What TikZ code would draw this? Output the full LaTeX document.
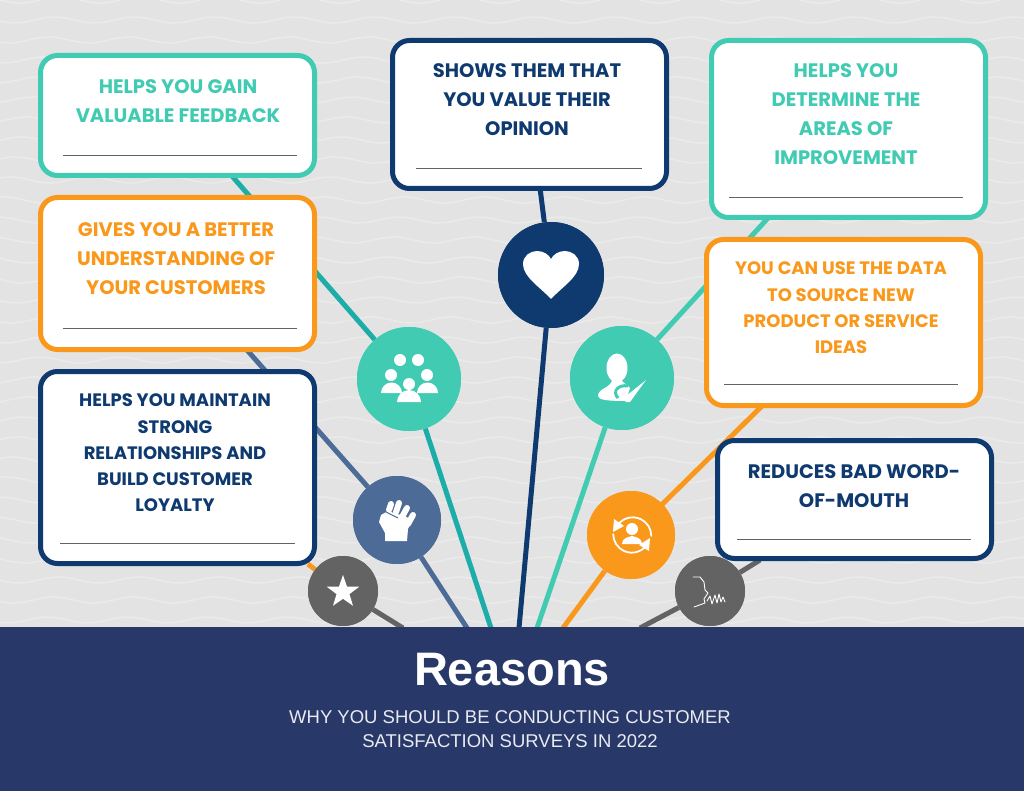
\documentclass[tikz,border=0pt]{standalone}
\usepackage{fontspec}
\usetikzlibrary{shapes.geometric}
\setmainfont{Liberation Sans}
\newfontfamily\boxfont{Poppins}[BoldFont={Poppins Bold}]
\definecolor{bgc}{HTML}{E3E3E3}
\definecolor{wavec}{HTML}{EAEAEA}
\definecolor{mint}{HTML}{40CBB2}
\definecolor{teal2}{HTML}{1CADA8}
\definecolor{orng}{HTML}{F9981A}
\definecolor{navy}{HTML}{0E3A70}
\definecolor{slate}{HTML}{4D6B97}
\definecolor{grayc}{HTML}{636363}
\definecolor{foot}{HTML}{283869}
\tikzset{
  x=1pt,y=-1pt,
  cardbox/.style={draw=#1,fill=white,line width=5pt,rounded corners=17pt,inner sep=0pt},
  cardtext/.style={text=#1,align=center,inner sep=0pt,font=\boxfont\bfseries\fontsize{19.5}{29}\selectfont},
  rulebar/.style={draw=grayc,line width=0.7pt},
  wire/.style={draw=#1,line width=5pt},
  disc/.style={circle,fill=#1,inner sep=0pt},
  glyph/.style={fill=white,draw=none},
  glyphline/.style={draw=white,line cap=round,line join=round},
}
\newcommand{\card}[6]{% name, x1, y1, x2, y2, colour
  \node[cardbox=#6,minimum width=#4pt-#2pt-5pt,minimum height=#5pt-#3pt-5pt] (#1) at ({(#2+#4)/2},{(#3+#5)/2}) {};}
\begin{document}
\begin{tikzpicture}
\useasboundingbox (0,0) rectangle (1024,791);
\fill[bgc] (0,0) rectangle (1024,791);
\foreach \r in {-1,...,32}{
  \draw[wavec,line width=1.6pt] plot[domain=0:1024,samples=90,smooth] (\x,{\r*20+3*sin(\x*4.5+\r*25)});
}
% coordinates on the footer edge
\coordinate (f1) at (403,628);
\coordinate (f2) at (467,628);
\coordinate (f3) at (491,628);
\coordinate (f4) at (519,628);
\coordinate (f5) at (537,628);
\coordinate (f6) at (563,628);
\coordinate (f7) at (640,628);
% discs
\node[disc=mint,minimum size=104pt] (cgroup) at (409,379) {};
\node[disc=slate,minimum size=88pt] (cfist) at (397,520) {};
\node[disc=grayc,minimum size=70pt] (cstar) at (343,591) {};
\node[disc=navy,minimum size=106pt] (cheart) at (551,275) {};
\node[disc=mint,minimum size=104pt] (cuser) at (622,378) {};
\node[disc=orng,minimum size=88pt] (cswap) at (631,535) {};
\node[disc=grayc,minimum size=70pt] (cvoice) at (710,591) {};
% cards' anchors for wires
\coordinate (a1) at (232,176);
\coordinate (a2) at (247,350);
\coordinate (a3) at (308,564);
\coordinate (a4) at (540,188);
\coordinate (a5) at (768,218);
\coordinate (a6) at (762,406);
\coordinate (a7) at (760,560);
% wires
\begin{scope}[on background layer/.style={}]
\draw[wire=teal2] (f3) -- (cgroup);
\draw[wire=teal2] (cgroup) -- (a1);
\draw[wire=slate] (f2) -- (cfist);
\draw[wire=slate] (cfist) -- (a2);
\draw[wire=grayc] (f1) -- (cstar);
\draw[wire=orng] (cstar) -- (a3);
\draw[wire=navy] (f4) -- (cheart);
\draw[wire=navy] (cheart) -- (a4);
\draw[wire=mint] (f5) -- (cuser);
\draw[wire=mint] (cuser) -- (a5);
\draw[wire=orng] (f6) -- (cswap);
\draw[wire=orng] (cswap) -- (a6);
\draw[wire=grayc] (f7) -- (cvoice);
\draw[wire=grayc] (cvoice) -- (a7);
\end{scope}
% redraw discs over wires
\node[disc=mint,minimum size=104pt] at (cgroup) {};
\node[disc=slate,minimum size=88pt] at (cfist) {};
\node[disc=grayc,minimum size=70pt] at (cstar) {};
\node[disc=navy,minimum size=106pt] at (cheart) {};
\node[disc=mint,minimum size=104pt] at (cuser) {};
\node[disc=orng,minimum size=88pt] at (cswap) {};
\node[disc=grayc,minimum size=70pt] at (cvoice) {};
% cards
\card{b1}{38}{53}{317}{178}{mint}
\card{b2}{38}{195}{317}{352}{orng}
\card{b3}{38}{369}{317}{566}{navy}
\card{b4}{390}{38}{669}{191}{navy}
\card{b5}{709}{38}{988}{220}{mint}
\card{b6}{704}{237}{983}{408}{orng}
\card{b7}{715}{438}{994}{561}{navy}
\node[cardtext=mint] (t1) at (178,101) {HELPS YOU GAIN\\VALUABLE FEEDBACK};
\node[cardtext=orng] (t2) at (176,259) {GIVES YOU A BETTER\\UNDERSTANDING OF\\YOUR CUSTOMERS};
\node[cardtext=navy,font=\boxfont\bfseries\fontsize{18}{26.3}\selectfont] (t3) at (175,453) {HELPS YOU MAINTAIN\\STRONG\\RELATIONSHIPS AND\\BUILD CUSTOMER\\LOYALTY};
\node[cardtext=navy] (t4) at (527,100) {SHOWS THEM THAT\\YOU VALUE THEIR\\OPINION};
\node[cardtext=mint] (t5) at (846,114) {HELPS YOU\\DETERMINE THE\\AREAS OF\\IMPROVEMENT};
\node[cardtext=orng,font=\boxfont\bfseries\fontsize{18}{26.3}\selectfont] (t6) at (841,308) {YOU CAN USE THE DATA\\TO SOURCE NEW\\PRODUCT OR SERVICE\\IDEAS};
\node[cardtext=navy] (t7) at (854,486) {REDUCES BAD WORD-\\OF-MOUTH};
\draw[rulebar] (63,155) -- (297,155);
\draw[rulebar] (63,328) -- (297,328);
\draw[rulebar] (60,543) -- (295,543);
\draw[rulebar] (416,168) -- (642,168);
\draw[rulebar] (729,197) -- (963,197);
\draw[rulebar] (724,384) -- (958,384);
\draw[rulebar] (737,539) -- (971,539);
% footer
\fill[foot] (0,627) rectangle (1024,791);
\node[text=white,inner sep=0pt,font=\bfseries\fontsize{47}{50}\selectfont] (title) at (512,670) {Reasons};
\node[text=white!90!foot,align=center,inner sep=0pt,font=\fontsize{18.5}{24}\selectfont] (sub) at (510,729) {WHY YOU SHOULD BE CONDUCTING CUSTOMER\\SATISFACTION SURVEYS IN 2022};
% heart
\fill[glyph] (551,299) .. controls (540,287) and (523,277) .. (523,264) .. controls (523,256) and (530,251) .. (537,251) .. controls (544,251) and (549,255) .. (551,259) .. controls (553,255) and (558,251) .. (565,251) .. controls (572,251) and (579,256) .. (579,264) .. controls (579,277) and (562,287) .. (551,299) -- cycle;
% group
\foreach \p/\q in {400/360,418/360,391/375,427/375,409/384}{\fill[glyph] (\p,\q) circle[radius=6];}
\fill[glyph] (381,393) arc[start angle=180,end angle=360,radius=10.5] -- cycle;
\fill[glyph] (417,393) arc[start angle=180,end angle=360,radius=10.5] -- cycle;
\fill[glyph] (397,402) arc[start angle=180,end angle=360,radius=12] -- cycle;
% fist
\fill[glyph] (379,522) -- (381,515) -- (388,511) -- (407,517) -- (411,522) -- (408,529) -- (407,541) -- (385,541) -- (385,533) -- cycle;
\foreach \p/\q/\u/\v in {391/504/389/510,399/503/396/512,407/508/402/517,413/515/408/524}{
  \draw[glyphline,line width=6pt] (\p,\q) -- (\u,\v);}
\draw[draw=slate,line width=1pt] (386,512) -- (398,518);
% star
\node[star,star points=5,star point ratio=2.5,fill=white,inner sep=0pt,minimum size=34pt] (istar) at (343,592) {};
% user with check
\fill[glyph] (617,368) ellipse[x radius=10.5,y radius=14.5];
\fill[glyph] (612,380) .. controls (611,388) and (598,388) .. (598,396) .. controls (598,400) and (608,401) .. (626,401) -- (630,388) -- (622,381) -- cycle;
\draw[draw=mint,line width=3pt] (628,386) .. controls (618,384) and (612,392) .. (618,398);
\fill[glyph] (617,391) -- (620,389) -- (626,396) -- (646,380) -- (630,402) -- (626,402) -- cycle;
% swap
\draw[glyphline,line width=1.8pt] (616,528) arc[start angle=205,end angle=360,radius=18.5];
\draw[glyphline,line width=1.8pt] (648.5,542) arc[start angle=25,end angle=180,radius=18.5];
\fill[glyph] (613,532) -- (614,519) -- (624,526) -- cycle;
\fill[glyph] (650,538) -- (649,551) -- (639,545) -- cycle;
\fill[glyph] (632,529) circle[radius=6];
\fill[glyph] (622,544) .. controls (622,538) and (628,537) .. (632,536) .. controls (636,537) and (642,538) .. (642,544) -- cycle;
% voice
\draw[glyphline,line width=0.9pt] (693,577) -- (700,577) -- (704,582) -- (705,590) -- (708,593) -- (704,599) -- (705,603) -- (694,607);
\draw[glyphline,line width=0.9pt] (707,601) -- (710,596) -- (712,604) -- (715,595) -- (717,603) -- (719,594) -- (721,602) -- (723,597) -- (725,602);
\end{tikzpicture}
\end{document}
